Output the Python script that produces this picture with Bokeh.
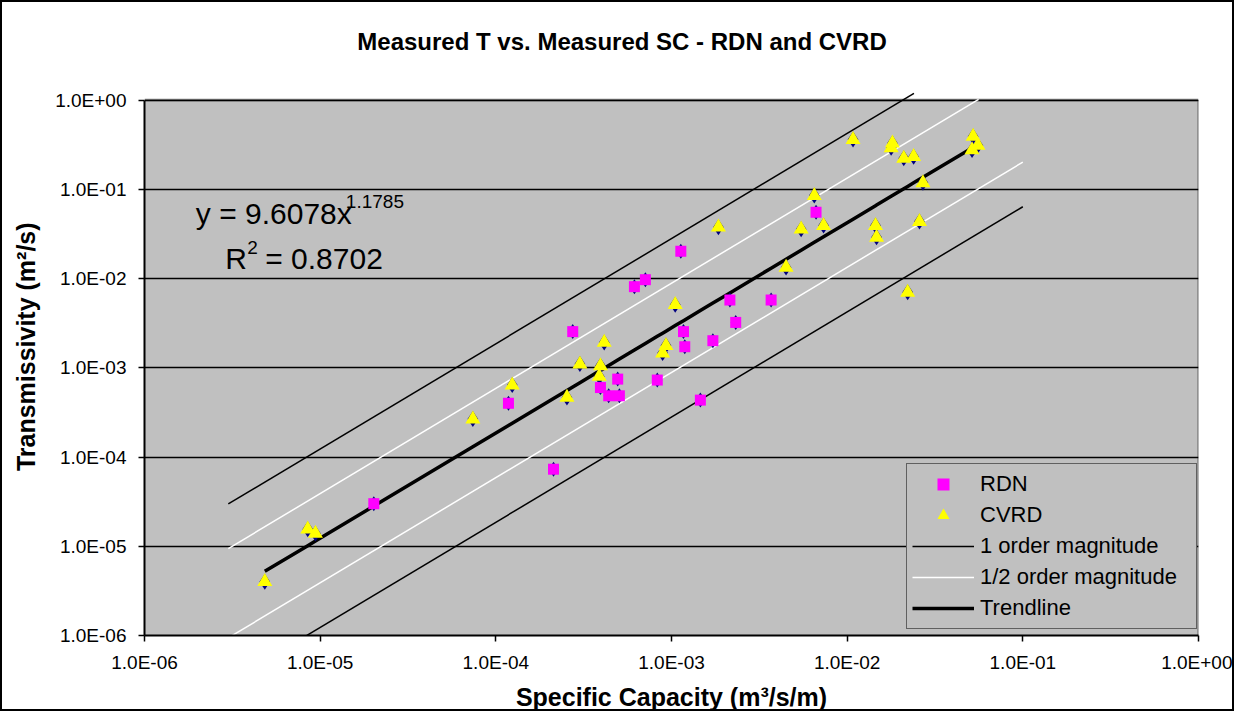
from bokeh.plotting import figure
from bokeh.models import FixedTicker, CustomJSTickFormatter, Label, Legend, LegendItem
from bokeh.embed import file_html
from bokeh.resources import INLINE

# ---------------- data ----------------
TITLE = "Measured T vs. Measured SC - RDN and CVRD"
X_LABEL = "Specific Capacity (m³/s/m)"
Y_LABEL = "Transmissivity (m²/s)"
DECADE_TICKS = [1e-6, 1e-5, 1e-4, 1e-3, 1e-2, 1e-1, 1e0]
AXIS_MIN, AXIS_MAX = 1e-6, 1.0

rdn_sc = [2.02e-5, 1.18e-4, 2.13e-4, 2.74e-4, 3.94e-4, 4.39e-4, 4.94e-4, 5.05e-4,
          6.15e-4, 7.1e-4, 8.3e-4, 1.13e-3, 1.17e-3, 1.19e-3, 1.46e-3, 1.72e-3,
          2.15e-3, 2.32e-3, 3.69e-3, 6.65e-3]
rdn_t = [3.0e-5, 4.0e-4, 7.3e-5, 2.54e-3, 6.0e-4, 4.85e-4, 7.46e-4, 4.85e-4,
         8.1e-3, 9.7e-3, 7.28e-4, 2.02e-2, 2.54e-3, 1.72e-3, 4.34e-4, 2.01e-3,
         5.74e-3, 3.22e-3, 5.74e-3, 5.52e-2]

cvrd_sc = [4.84e-6, 8.5e-6, 9.4e-6, 7.4e-5, 1.24e-4, 2.54e-4, 3.01e-4, 3.94e-4,
           3.88e-4, 4.14e-4, 9.3e-4, 8.9e-4, 1.05e-3, 1.85e-3, 4.49e-3, 5.47e-3,
           6.5e-3, 7.34e-3, 1.08e-2, 1.45e-2, 1.47e-2, 1.81e-2, 1.78e-2, 2.10e-2,
           2.39e-2, 2.21e-2, 2.58e-2, 2.70e-2, 5.21e-2, 5.55e-2, 5.14e-2]
cvrd_t = [4.0e-6, 1.55e-5, 1.39e-5, 2.66e-4, 6.4e-4, 4.65e-4, 1.10e-3, 1.05e-3,
          7.98e-4, 1.92e-3, 1.77e-3, 1.46e-3, 5.09e-3, 3.75e-2, 1.33e-2, 3.56e-2,
          8.5e-2, 3.92e-2, 0.36, 3.92e-2, 2.89e-2, 0.328, 0.291, 0.222,
          0.232, 7.0e-3, 4.34e-2, 0.118, 0.390, 0.309, 0.276]

# power-law trendline shown on the chart
TREND_A = 9.6078
TREND_B = 1.1785
R2 = 0.8702

# order-of-magnitude bands: offset in decades and x extent of each line
band_offsets = [1.0, 0.5, -0.5, -1.0]
band_x_start = [3.0e-6, 3.0e-6, 3.0e-6, 3.0e-6]
band_x_end = [2.4e-2, 5.6e-2, 1.0e-1, 1.0e-1]

# text anchors (data coordinates; the title sits in the white band above the axes)
TITLE_POS = (5.23e-4, 4.5)
EQ_POS = (1.96e-6, 0.0534)
R2_POS = (2.88e-6, 0.0167)


def trend(x, off=0.0):
    return TREND_A * x ** TREND_B * 10 ** off


# ---------------- figure ----------------
FONT = "Liberation Sans"
FIG_W, FIG_H = 1234, 711
BORDER_L, BORDER_R, BORDER_B = 142, 38, 78
TOP_BAND_PX = 97.5          # white band above the y = 1 line, inside the frame
frame_h = FIG_H - BORDER_B
decade_px = (frame_h - TOP_BAND_PX) / 6.0
y_top = 10 ** (TOP_BAND_PX / decade_px)

p = figure(width=FIG_W, height=FIG_H, x_axis_type="log", y_axis_type="log",
           x_range=(AXIS_MIN, AXIS_MAX), y_range=(AXIS_MIN, y_top),
           title=None, output_backend="svg", toolbar_location=None,
           min_border_left=BORDER_L, min_border_right=BORDER_R,
           min_border_top=0, min_border_bottom=BORDER_B)
p.styles = {"border": "2px solid black"}

p.background_fill_color = "white"
p.border_fill_color = "white"
p.outline_line_color = None

# grey plot area limited to the axis extent, with grey top/right edges
p.quad(left=[AXIS_MIN], right=[AXIS_MAX], bottom=[AXIS_MIN], top=[AXIS_MAX],
       fill_color="#C0C0C0", line_color=None, level="image")
p.segment(x0=[AXIS_MIN, AXIS_MAX], y0=[AXIS_MAX, AXIS_MIN],
          x1=[AXIS_MAX, AXIS_MAX], y1=[AXIS_MAX, AXIS_MAX],
          line_color="#808080", line_width=2.5, level="image")

fmt = CustomJSTickFormatter(code="""
    const e = Math.round(Math.log10(tick));
    const s = e < 0 ? '-' : '+';
    const a = Math.abs(e);
    return '1.0E' + s + (a < 10 ? '0' : '') + a;
""")

for ax in (p.xaxis[0], p.yaxis[0]):
    ax.ticker = FixedTicker(ticks=DECADE_TICKS)
    ax.formatter = fmt
    ax.bounds = (AXIS_MIN, AXIS_MAX)
    ax.minor_tick_line_color = None
    ax.major_tick_in = 0
    ax.major_tick_out = 6
    ax.major_tick_line_width = 1.5
    ax.major_tick_line_color = "black"
    ax.axis_line_width = 2
    ax.axis_line_color = "black"
    ax.major_label_text_font = FONT
    ax.major_label_text_font_size = "19px"
    ax.major_label_text_color = "black"
    ax.axis_label_text_font = FONT
    ax.axis_label_text_font_size = "25px"
    ax.axis_label_text_font_style = "bold"
    ax.axis_label_text_color = "black"

p.xaxis[0].axis_label = X_LABEL
# trailing no-break spaces keep the (frame-centred) label centred on the grey axis span
p.yaxis[0].axis_label = Y_LABEL + "\u00a0" * 8
p.xaxis[0].major_label_standoff = 10
p.yaxis[0].major_label_standoff = 12
p.xaxis[0].axis_label_standoff = 7
p.yaxis[0].axis_label_standoff = 12

p.xgrid.grid_line_color = None
p.ygrid.ticker = FixedTicker(ticks=DECADE_TICKS)
p.ygrid.bounds = (AXIS_MIN, AXIS_MAX)
p.ygrid.grid_line_color = "black"
p.ygrid.grid_line_width = 1.6

# ---------------- lines ----------------
band_renderers = []
for off, x0, x1 in zip(band_offsets, band_x_start, band_x_end):
    color = "black" if abs(off) == 1.0 else "white"
    r = p.line([x0, x1], [trend(x0, off), trend(x1, off)],
               line_color=color, line_width=1.5)
    band_renderers.append(r)

all_x = sorted(rdn_sc + cvrd_sc)
r_trend = p.line(all_x, [trend(x) for x in all_x], line_color="black", line_width=3.5)

# ---------------- points ----------------
# navy diamonds (all data) beneath the series markers
p.scatter(rdn_sc, rdn_t, marker="diamond", size=15, fill_color="#000080", line_color=None)
p.scatter(cvrd_sc, cvrd_t, marker="diamond", size=16, fill_color="#000080", line_color=None)
r_rdn = p.scatter(rdn_sc, rdn_t, marker="square", size=11,
                  fill_color="#FF00FF", line_color=None)
r_cvrd = p.scatter(cvrd_sc, cvrd_t, marker="triangle", size=15,
                   fill_color="#FFFF00", line_color=None)

# ---------------- title ----------------
p.add_layout(Label(x=TITLE_POS[0], y=TITLE_POS[1], text=TITLE, text_font=FONT,
                   text_font_size="24px", text_font_style="bold", text_color="black",
                   text_align="center", text_baseline="middle"))

# ---------------- equation ----------------
EQ_FONT = "30px"
SUP_FONT = "19px"
p.add_layout(Label(x=EQ_POS[0], y=EQ_POS[1], text="y = %.4fx" % TREND_A, text_font=FONT,
                   text_font_size=EQ_FONT, text_color="black", text_baseline="middle"))
p.add_layout(Label(x=EQ_POS[0], y=EQ_POS[1], x_offset=150, y_offset=12,
                   text="%.4f" % TREND_B, text_font=FONT, text_font_size=SUP_FONT,
                   text_color="black", text_baseline="middle"))
p.add_layout(Label(x=R2_POS[0], y=R2_POS[1], text="R", text_font=FONT,
                   text_font_size=EQ_FONT, text_color="black", text_baseline="middle"))
p.add_layout(Label(x=R2_POS[0], y=R2_POS[1], x_offset=22, y_offset=11, text="2",
                   text_font=FONT, text_font_size=SUP_FONT, text_color="black",
                   text_baseline="middle"))
p.add_layout(Label(x=R2_POS[0], y=R2_POS[1], x_offset=40, text="= %.4f" % R2,
                   text_font=FONT, text_font_size=EQ_FONT, text_color="black",
                   text_baseline="middle"))

# ---------------- legend ----------------
legend = Legend(items=[
    LegendItem(label="RDN", renderers=[r_rdn]),
    LegendItem(label="CVRD", renderers=[r_cvrd]),
    LegendItem(label="1 order magnitude", renderers=[band_renderers[0]]),
    LegendItem(label="1/2 order magnitude", renderers=[band_renderers[1]]),
    LegendItem(label="Trendline", renderers=[r_trend]),
], location=(762, 6))
legend.border_line_color = "black"
legend.border_line_width = 1.5
legend.background_fill_color = "#C0C0C0"
legend.background_fill_alpha = 1.0
legend.label_text_font = FONT
legend.label_text_font_size = "22px"
legend.label_text_color = "black"
legend.glyph_width = 62
legend.glyph_height = 30
legend.label_height = 30
legend.label_width = 211
legend.label_standoff = 6
legend.spacing = 1
legend.padding = 5
legend.margin = 0
p.add_layout(legend)

open("out.html", "w").write(file_html(p, INLINE))
